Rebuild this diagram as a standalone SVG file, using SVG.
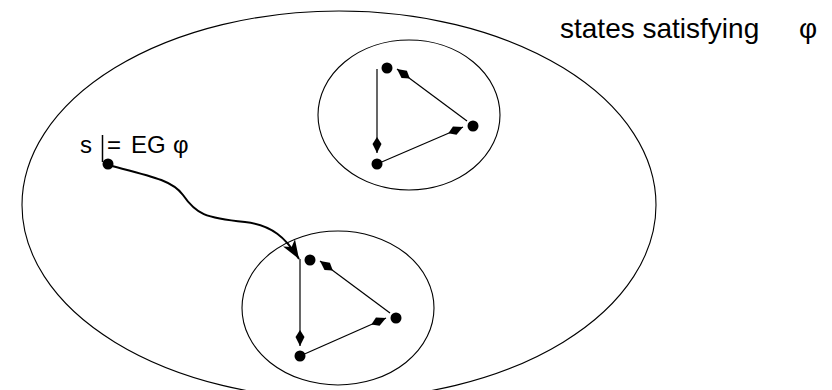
<svg xmlns="http://www.w3.org/2000/svg" width="832" height="390" viewBox="0 0 832 390">
<style>
.ring{fill:none;stroke:#000;stroke-width:1.1}
.edge{fill:none;stroke:#000;stroke-width:1.2}
.dot{fill:#000}
.lbl{font-family:"Liberation Sans",Arial,sans-serif;fill:#000}
</style>
<defs>
<marker id="kite" markerUnits="userSpaceOnUse" markerWidth="20" markerHeight="12" viewBox="-17 -6 18 12" refX="0" refY="0" orient="auto">
<path d="M0,0 L-9,-4.5 L-16,0 L-9,4.5 Z" fill="#000"/>
</marker>
<marker id="big" markerUnits="userSpaceOnUse" markerWidth="24" markerHeight="16" viewBox="-20 -8 21 16" refX="0" refY="0" orient="auto">
<path d="M0,0 L-19,-7 L-14,0 L-19,7 Z" fill="#000"/>
</marker>
</defs>
<g id="universe">
<ellipse class="ring" cx="339" cy="205" rx="317" ry="194"/>
<text class="lbl" x="560" y="38" font-size="28">states satisfying<tspan x="799">φ</tspan></text>
</g>
<g id="sccTop">
<ellipse class="ring" cx="409" cy="115" rx="91" ry="75"/>
<circle class="dot" cx="387" cy="68" r="5.5"/>
<circle class="dot" cx="473" cy="126" r="5.5"/>
<circle class="dot" cx="377" cy="164" r="5.5"/>
</g>
<g id="sccBottom">
<ellipse class="ring" cx="338" cy="308" rx="96" ry="77"/>
<circle class="dot" cx="310" cy="260" r="5.5"/>
<circle class="dot" cx="396" cy="318" r="5.5"/>
<circle class="dot" cx="300" cy="356" r="5.5"/>
</g>
<g id="s">
<circle class="dot" cx="108" cy="164" r="5.5"/>
<text class="lbl" x="80" y="153" font-size="24">s</text>
<line x1="102.5" y1="135" x2="102.5" y2="162" stroke="#000" stroke-width="1.5"/>
<text class="lbl" x="107" y="153" font-size="24">=<tspan x="131">EG</tspan><tspan x="173">φ</tspan></text>
</g>
<g id="connectors">
<line class="edge" x1="377" y1="69" x2="377" y2="153" marker-end="url(#kite)"/>
<line class="edge" x1="377" y1="164" x2="463" y2="127" marker-end="url(#kite)"/>
<line class="edge" x1="467" y1="121" x2="397" y2="69" marker-end="url(#kite)"/>
<line class="edge" x1="300" y1="259" x2="300" y2="346" marker-end="url(#kite)"/>
<line class="edge" x1="300" y1="356" x2="386" y2="318" marker-end="url(#kite)"/>
<line class="edge" x1="390" y1="313" x2="320" y2="261" marker-end="url(#kite)"/>
<path d="M108,165 C150,176 172,180 183,195 C196,214 205,218 245,222 C272,225 286,238 299,259" fill="none" stroke="#000" stroke-width="2" marker-end="url(#big)"/>
</g>
</svg>
